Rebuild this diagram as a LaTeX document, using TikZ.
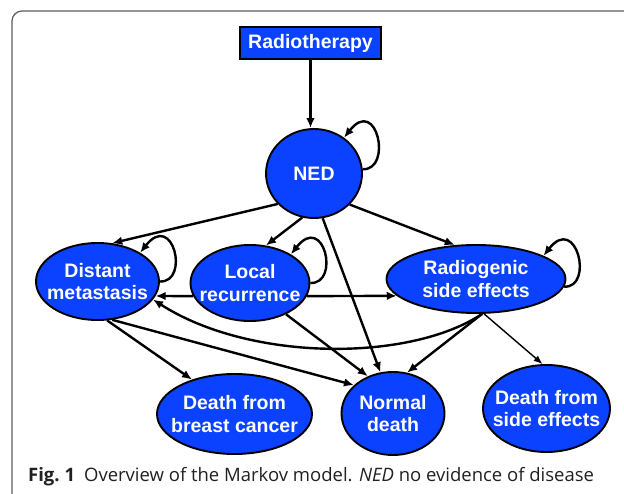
\documentclass[tikz,border=0pt]{standalone}
\usepackage{fontspec}
\setmainfont{Liberation Sans}
\newfontfamily\capfont{Open Sans}
\usetikzlibrary{positioning,arrows.meta,shapes.geometric}
\definecolor{ModelBlue}{HTML}{0A42FF}
\definecolor{FrameGray}{HTML}{5A5A5A}
\definecolor{CaptionInk}{HTML}{231F20}

\begin{document}
\begin{tikzpicture}[
    x=1pt, y=-1pt,
    state/.style={ellipse, draw=black, line width=1.9pt, fill=ModelBlue, inner sep=0pt},
    statetext/.style={text=white, align=center, font=\bfseries\fontsize{19.5}{22.5}\selectfont},
    startbox/.style={rectangle, draw=black, line width=1.9pt, fill=ModelBlue, inner sep=0pt,
      minimum width=141pt, minimum height=32pt, statetext},
    arrow/.style={-{Latex[length=10pt,width=8.5pt]}, line width=2.4pt},
    thinarrow/.style={-{Latex[length=9pt,width=7pt]}, line width=1.4pt}
  ]
    \clip (0,0) rectangle (624,494);
    \draw[FrameGray, line width=1.2pt, rounded corners=10pt] (12,520) -- (12,11) -- (650,11);

    \node[startbox] (rt) at (310.5,43) {Radiotherapy};
    \node[state, minimum width=96pt, minimum height=89pt,
      label={[statetext]center:NED}] (ned) at (314,173.5) {};
    \node[state, minimum width=123pt, minimum height=77pt,
      label={[statetext]center:{Distant\\metastasis}}] (dm) at (97.5,281.5) {};
    \node[state, minimum width=119pt, minimum height=76pt,
      label={[statetext]center:{Local\\recurrence}}] (lr) at (250,283) {};
    \node[state, minimum width=179pt, minimum height=68pt,
      label={[statetext]center:{Radiogenic\\side effects}}] (rse) at (476,279) {};
    \node[state, minimum width=155pt, minimum height=80pt,
      label={[statetext]center:{Death from\\breast cancer}}] (dbc) at (234.5,414) {};
    \node[state, minimum width=103pt, minimum height=83pt,
      label={[statetext]center:{Normal\\death}}] (nd) at (393,413.5) {};
    \node[state, minimum width=127pt, minimum height=87pt,
      label={[statetext]center:{Death from\\side effects}}] (dse) at (546.5,408.5) {};

    \node[anchor=base west, inner sep=0pt, text=CaptionInk,
      font=\capfont\fontsize{18.5}{21}\selectfont] (cap) at (28,481)
      {\textbf{Fig.\ 1}\hspace{9pt}Overview of the Markov model. \textit{NED} no evidence of disease};

    \draw[arrow] (rt) -- (rt.south |- ned.north);
    \draw[arrow] (ned.220) -- (dm.69);
    \draw[arrow] (ned.255) -- (lr.67);
    \draw[arrow] (ned.281) -- (nd.107);
    \draw[arrow] (ned.319) -- (rse.122);
    \draw[arrow] (lr.193) -- (dm.346);
    \draw[arrow] (lr.347) -- (rse.192);
    \draw[arrow] (lr.319) -- (nd.124);
    \draw[arrow] (dm.284) -- (dbc.141);
    \draw[arrow] (dm.291) -- (nd.144);
    \draw[arrow] (rse.280) .. controls (410,362) and (250,362) .. (dm.342);
    \draw[arrow] (rse.280) -- (nd.71);
    \draw[thinarrow] (rse.283) -- (dse.95);
    % self loops
    \draw[arrow] (ned.5) .. controls +(30,1) and +(33,-42) .. (ned.50);
    \draw[arrow] (dm.0) .. controls +(30,1) and +(33,-42) .. (dm.34);
    \draw[arrow] (lr.0) .. controls +(30,1) and +(33,-42) .. (lr.35);
    \draw[arrow] (rse.355) .. controls +(30,1) and +(33,-42) .. (rse.19);
\end{tikzpicture}
\end{document}
